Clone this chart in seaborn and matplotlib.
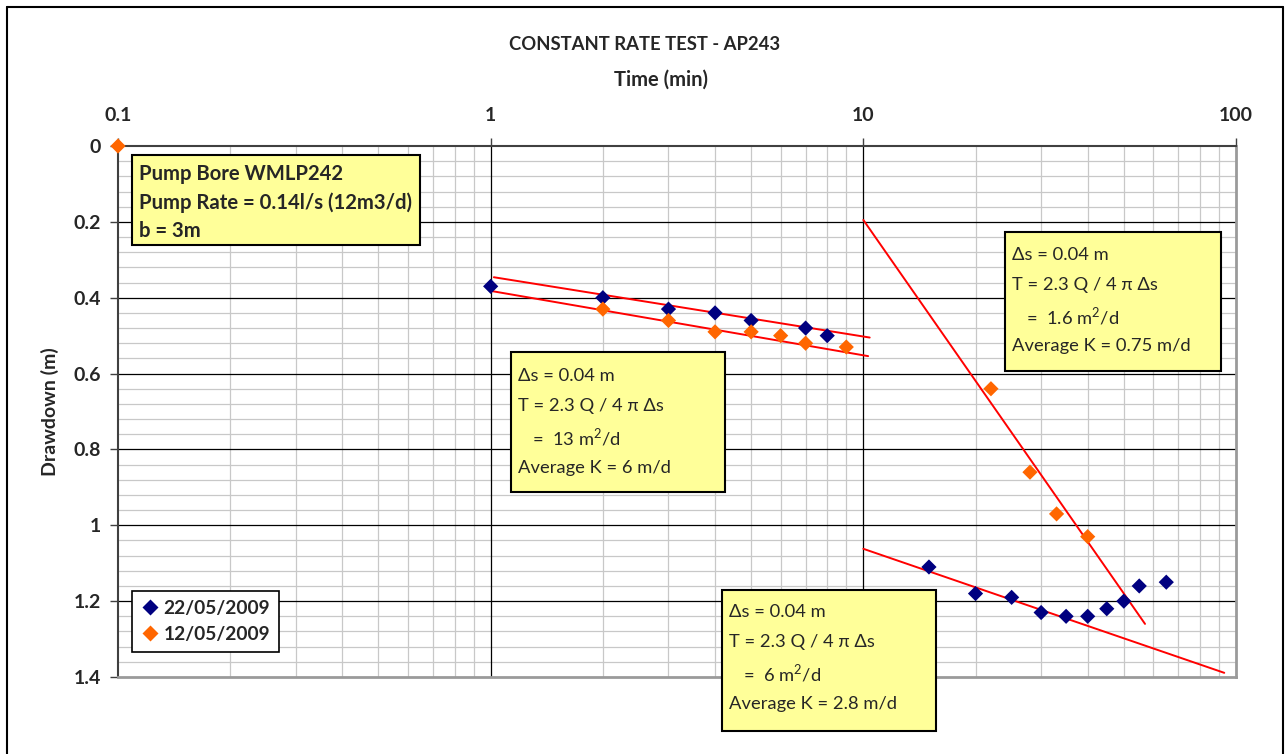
import matplotlib
matplotlib.use("Agg")
import matplotlib.pyplot as plt
import matplotlib.ticker as mticker
from matplotlib.patches import Rectangle
from matplotlib.lines import Line2D
import numpy as np
import pandas as pd
import seaborn as sns

# Drawdown observations (time in minutes, drawdown in metres)
t_2205 = [1, 2, 3, 4, 5, 7, 8, 15, 20, 25, 30, 35, 40, 45, 50, 55, 65]
d_2205 = [0.37, 0.40, 0.43, 0.44, 0.46, 0.48, 0.50, 1.11, 1.18, 1.19, 1.23,
          1.24, 1.24, 1.22, 1.20, 1.16, 1.15]
t_1205 = [0.1, 2, 3, 4, 5, 6, 7, 9, 22, 28, 33, 40]
d_1205 = [0.0, 0.43, 0.46, 0.49, 0.49, 0.50, 0.52, 0.53, 0.64, 0.86, 0.97, 1.03]
series_names = ["22/05/2009", "12/05/2009"]

# Straight-line (Cooper-Jacob) fits, given by their end points
fit_early_2205_t = [1.02, 10.4]
fit_early_2205_d = [0.346, 0.505]
fit_early_1205_t = [1.0, 10.3]
fit_early_1205_d = [0.382, 0.554]
fit_late_1205_t = [10.0, 57.0]
fit_late_1205_d = [0.195, 1.26]
fit_late_2205_t = [10.0, 93.0]
fit_late_2205_d = [1.062, 1.389]

x_ticks = [0.1, 1, 10, 100]
x_ticklabels = ["0.1", "1", "10", "100"]
y_ticks = [0, 0.2, 0.4, 0.6, 0.8, 1.0, 1.2, 1.4]
y_ticklabels = ["0", "0.2", "0.4", "0.6", "0.8", "1", "1.2", "1.4"]

info_lines = ["Pump Bore WMLP242", "Pump Rate = 0.14l/s (12m3/d)", "b = 3m"]
box_early_lines = ["Δs = 0.04 m", "T = 2.3 Q / 4 π Δs", "   =  13 m$^2$/d", "Average K = 6 m/d"]
box_late1205_lines = ["Δs = 0.04 m", "T = 2.3 Q / 4 π Δs", "   =  1.6 m$^2$/d", "Average K = 0.75 m/d"]
box_late2205_lines = ["Δs = 0.04 m", "T = 2.3 Q / 4 π Δs", "   =  6 m$^2$/d", "Average K = 2.8 m/d"]

df = pd.concat([
    pd.DataFrame({"t": t_2205, "d": d_2205, "series": series_names[0]}),
    pd.DataFrame({"t": t_1205, "d": d_1205, "series": series_names[1]}),
], ignore_index=True)

sns.set_style("white")
plt.rcParams["font.family"] = ["Lato", "DejaVu Sans"]
plt.rcParams["mathtext.fontset"] = "custom"
plt.rcParams["mathtext.rm"] = "Lato"

W, H = 1287, 754
fig = plt.figure(figsize=(W / 100, H / 100), dpi=100)
L, R, T, B = 118, 1236, 146, 677
ax = fig.add_axes([L / W, 1 - B / H, (R - L) / W, (B - T) / H])

palette = {series_names[0]: "#000080", series_names[1]: "#FF6600"}
sns.scatterplot(data=df, x="t", y="d", hue="series", hue_order=series_names,
                palette=palette, marker="D", s=60, edgecolor="none",
                ax=ax, zorder=5, clip_on=False, legend=True)

for ft, fd in [(fit_early_2205_t, fit_early_2205_d), (fit_early_1205_t, fit_early_1205_d),
               (fit_late_1205_t, fit_late_1205_d), (fit_late_2205_t, fit_late_2205_d)]:
    ax.plot(ft, fd, color="#FF0000", lw=1.4, zorder=4)

ax.set_xscale("log")
ax.set_xlim(0.1, 100)
ax.set_ylim(1.4, 0)
ax.xaxis.tick_top()
ax.set_xticks(x_ticks)
ax.set_xticklabels(x_ticklabels)
ax.xaxis.set_minor_locator(mticker.LogLocator(base=10, subs=np.arange(2, 10)))
ax.xaxis.set_minor_formatter(mticker.NullFormatter())
ax.set_yticks(y_ticks)
ax.set_yticklabels(y_ticklabels)
ax.yaxis.set_minor_locator(mticker.MultipleLocator(0.04))
ax.set_xlabel("")
ax.set_ylabel("")

# minor grid from the axes, major grid drawn above it so it stays unbroken
ax.grid(which="minor", color="#C8C8C8", lw=0.9)
ax.set_axisbelow(True)
for xv in x_ticks[1:-1]:
    ax.axvline(xv, color="#000000", lw=0.9, zorder=1)
for yv in y_ticks[1:-1]:
    ax.axhline(yv, color="#000000", lw=0.9, zorder=1)

ax.tick_params(axis="x", which="major", top=True, bottom=False, length=6, width=1,
               pad=10, labelsize=14, color="#404040")
ax.tick_params(axis="y", which="major", left=True, length=6, width=1, pad=6,
               labelsize=14, color="#404040")
ax.tick_params(which="minor", length=0)
for lab in ax.get_xticklabels() + ax.get_yticklabels():
    lab.set_fontweight("bold")
for side in ["left", "top"]:
    ax.spines[side].set_color("#404040")
    ax.spines[side].set_linewidth(1.5)
for side in ["right", "bottom"]:
    ax.spines[side].set_color("#9A9A9A")
    ax.spines[side].set_linewidth(2)

# legend
handles, labels = ax.get_legend_handles_labels()
leg = ax.legend(handles, labels, loc="upper left",
                bbox_to_anchor=((132 - L) / (R - L), 1 - (591 - T) / (B - T)),
                frameon=True, fancybox=False, edgecolor="#000000", framealpha=1,
                prop={"weight": "bold", "size": 13.8}, handletextpad=0.2,
                handlelength=1.0, borderpad=0.45, labelspacing=0.5,
                borderaxespad=0)
leg.get_frame().set_linewidth(1.2)
leg.set_zorder(7)

# text boxes in figure pixels
def text_box(x0, y0, x1, y1, lines, first_y, step, bold=False, size=13.5):
    fig.patches.append(Rectangle((x0 / W, 1 - y1 / H), (x1 - x0) / W, (y1 - y0) / H,
                                 transform=fig.transFigure, facecolor="#FFFF99",
                                 edgecolor="#000000", lw=1.5, zorder=8))
    for i, s in enumerate(lines):
        fig.text((x0 + 7) / W, 1 - (first_y + i * step) / H, s, ha="left",
                 va="center", fontsize=size, zorder=9,
                 fontweight="bold" if bold else "normal")

text_box(132, 155, 420, 245, info_lines, 174, 28.5, bold=True, size=14.6)
text_box(511, 352, 725, 492, box_early_lines, 376, 30.5, size=13.2)
text_box(1005, 232, 1221, 371, box_late1205_lines, 255, 30.5, size=13.2)
text_box(722, 590, 936, 731, box_late2205_lines, 612, 30.5, size=13.2)

# titles and axis labels
fig.text(645 / W, 1 - 44 / H, "CONSTANT RATE TEST - AP243", ha="center", va="center",
         fontsize=13.3, fontweight="bold")
fig.text(661 / W, 1 - 80 / H, "Time (min)", ha="center", va="center",
         fontsize=14.5, fontweight="bold")
fig.text(50 / W, 1 - 412 / H, "Drawdown (m)", ha="center", va="center",
         rotation=90, fontsize=14, fontweight="bold")

# outer chart border
for xs, ys in [([7, 7], [7, 760]), ([7, 1283], [7, 7]), ([1283, 1283], [7, 760])]:
    fig.lines.append(Line2D([x / W for x in xs], [1 - y / H for y in ys],
                            transform=fig.transFigure, color="#000000", lw=1.5))

fig.savefig("out.png", dpi=100)
